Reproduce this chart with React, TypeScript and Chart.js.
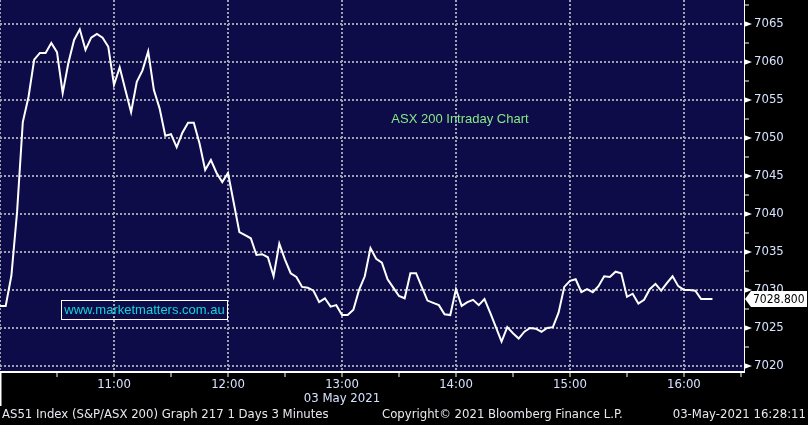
import React, { useEffect, useRef } from 'react';
import { Chart, registerables } from 'chart.js';

Chart.register(...registerables);

// ---- data ----
const STEP_MINUTES = 3; // 3-minute bars starting 10:00
const values = [
  7027.9, 7027.9, 7031.9, 7040.3, 7052.1, 7055.4, 7060.3, 7061.2, 7061.2, 7062.5,
  7061.3, 7055.9, 7059.9, 7062.9, 7064.3, 7061.6, 7063.2, 7063.7, 7063.2, 7062.0,
  7057.0, 7059.3, 7056.3, 7053.4, 7057.4, 7058.9, 7061.4, 7056.3, 7053.9, 7050.3,
  7050.5, 7048.8, 7050.7, 7052.0, 7052.0, 7049.3, 7045.8, 7047.1, 7045.4, 7044.2,
  7045.4, 7041.5, 7037.6, 7037.2, 7036.8, 7034.6, 7034.7, 7034.3, 7031.8, 7036.1,
  7034.0, 7032.2, 7031.7, 7030.4, 7030.3, 7029.9, 7028.4, 7028.9, 7027.8, 7028.0,
  7026.7, 7026.7, 7027.4, 7030.0, 7031.8, 7035.5, 7034.1, 7033.6, 7031.4, 7030.3,
  7029.2, 7028.9, 7032.2, 7032.2, 7030.4, 7028.6, 7028.3, 7028.0, 7026.8, 7026.7,
  7030.1, 7027.9, 7028.4, 7028.7, 7028.0, 7028.8, 7027.0, 7025.1, 7023.2, 7025.1,
  7024.3, 7023.6, 7024.5, 7025.0, 7024.9, 7024.5, 7025.0, 7025.1, 7027.0, 7030.4,
  7031.2, 7031.4, 7029.7, 7030.1, 7029.7, 7030.5, 7031.8, 7031.7, 7032.4, 7032.2,
  7029.1, 7029.5, 7028.2, 7028.7, 7030.1, 7030.8, 7029.9, 7030.9, 7031.8, 7030.5,
  7030.0, 7030.0, 7029.9, 7028.8, 7028.8, 7028.8,
];
const hourTickMinutes = [60, 120, 180, 240, 300, 360];
const hourLabels = ['11:00', '12:00', '13:00', '14:00', '15:00', '16:00'];
const dateLabel = '03 May 2021';
const dateLabelMinute = 180;
const footerLeft = 'AS51 Index (S&P/ASX 200) Graph 217 1 Days 3 Minutes';
const footerMid = 'Copyright\u00A9 2021 Bloomberg Finance L.P.';
const footerRight = '03-May-2021 16:28:11';
const chartTitle = 'ASX 200 Intraday Chart';
const watermark = 'www.marketmatters.com.au';
const lastValue = 7028.8;
const lastValueLabel = '7028.800';

const X_MIN = 0;
const X_MAX = 391.6;
const Y_MIN = 7019.2;
const Y_MAX = 7068.16;

const NAVY = '#0e0c48';
const GRID = '#a0a0ae';
const AXIS_TEXT = '#d6e2ff';
const COND = "'DejaVu Sans Condensed', 'DejaVu Sans', sans-serif";

const decorPlugin = {
  id: 'decor',
  beforeDraw(chart: any) {
    const { ctx, chartArea: a, width, height } = chart;
    ctx.save();
    ctx.fillStyle = '#000000';
    ctx.fillRect(0, 0, width, height);
    ctx.fillStyle = NAVY;
    ctx.fillRect(a.left, a.top, a.right - a.left, a.bottom - a.top);
    ctx.restore();
  },
  afterDraw(chart: any) {
    const { ctx, chartArea: a } = chart;
    const xs = chart.scales.x;
    const ys = chart.scales.y;
    ctx.save();
    // triangles on major y ticks
    ctx.fillStyle = '#ffffff';
    for (let v = 7020; v <= 7065; v += 5) {
      const y = ys.getPixelForValue(v);
      ctx.beginPath();
      ctx.moveTo(a.right, y - 3);
      ctx.lineTo(a.right + 8, y);
      ctx.lineTo(a.right, y + 3);
      ctx.closePath();
      ctx.fill();
    }
    // day separator line at left
    ctx.fillRect(a.left, a.bottom, 1.5, 34);

    // date label
    ctx.fillStyle = AXIS_TEXT;
    ctx.font = `13px ${COND}`;
    ctx.textAlign = 'center';
    ctx.textBaseline = 'middle';
    ctx.fillText(dateLabel, xs.getPixelForValue(dateLabelMinute), 399);

    // footer
    ctx.fillStyle = '#e8e8ee';
    ctx.textAlign = 'left';
    ctx.fillText(footerLeft, 2, 415);
    ctx.fillText(footerMid, 382, 415);
    ctx.textAlign = 'right';
    ctx.fillText(footerRight, 806, 415);

    // title
    ctx.font = "13px 'Liberation Sans', Arial, sans-serif";
    ctx.fillStyle = '#86e986';
    ctx.textAlign = 'center';
    ctx.fillText(chartTitle, 460, 119);

    // watermark box
    ctx.strokeStyle = '#ffffff';
    ctx.lineWidth = 1;
    ctx.strokeRect(61.5, 300.5, 166, 19);
    ctx.fillStyle = '#14d4dc';
    ctx.fillText(watermark, 144.5, 310.5);

    // last value box
    const yv = ys.getPixelForValue(lastValue);
    ctx.beginPath();
    ctx.moveTo(a.right + 1, yv);
    ctx.lineTo(a.right + 7, yv - 8);
    ctx.lineTo(807, yv - 8);
    ctx.lineTo(807, yv + 8);
    ctx.lineTo(a.right + 7, yv + 8);
    ctx.closePath();
    ctx.fillStyle = '#ffffff';
    ctx.fill();
    ctx.fillStyle = '#000000';
    ctx.font = `12px ${COND}`;
    ctx.textAlign = 'left';
    ctx.fillText(lastValueLabel, a.right + 9, yv + 0.5);
    ctx.restore();
  },
};

export default function App() {
  const ref = useRef<HTMLCanvasElement | null>(null);
  useEffect(() => {
    document.body.style.margin = '0';
    document.body.style.background = '#000';
    const canvas = ref.current;
    if (!canvas) return;
    const data = values.map((v, i) => ({ x: i * STEP_MINUTES, y: v }));
    const chart = new Chart(canvas, {
      type: 'line',
      data: {
        datasets: [
          {
            data,
            borderColor: '#ffffff',
            borderWidth: 2,
            pointRadius: 0,
            tension: 0,
            fill: false,
          },
        ],
      },
      options: {
        animation: false,
        responsive: false,
        maintainAspectRatio: false,
        layout: { padding: 0 },
        plugins: { legend: { display: false }, tooltip: { enabled: false }, title: { display: false } },
        scales: {
          x: {
            type: 'linear',
            min: X_MIN,
            max: X_MAX,
            afterFit(scale: any) {
              scale.height = 53;
              scale.paddingLeft = 0;
              scale.paddingRight = 0;
            },
            ticks: {
              stepSize: 30,
              includeBounds: false,
              autoSkip: false,
              maxRotation: 0,
              padding: 0,
              color: AXIS_TEXT,
              font: { family: COND, size: 13 },
              callback: (v: any) => {
                const idx = hourTickMinutes.indexOf(Number(v));
                return idx >= 0 ? hourLabels[idx] : '';
              },
            },
            grid: {
              color: (c: any) => (c.tick && c.tick.value % 60 === 0 ? GRID : 'rgba(0,0,0,0)'),
              lineWidth: 2,
              tickColor: '#ffffff',
              tickLength: 5,
              tickWidth: 1,
            },
            border: { display: true, color: '#ffffff', width: 2, dash: [2, 2] },
          },
          y: {
            type: 'linear',
            position: 'right',
            min: Y_MIN,
            max: Y_MAX,
            afterFit(scale: any) {
              scale.width = 64;
              scale.paddingTop = 0;
              scale.paddingBottom = 0;
            },
            ticks: {
              stepSize: 2.5,
              includeBounds: false,
              autoSkip: false,
              padding: 5,
              color: AXIS_TEXT,
              font: { family: COND, size: 13 },
              callback: (v: any) => (Number(v) % 5 === 0 ? String(v) : ''),
            },
            grid: {
              color: (c: any) => (c.tick && c.tick.value % 5 === 0 ? GRID : 'rgba(0,0,0,0)'),
              lineWidth: 2,
              tickColor: '#ffffff',
              tickLength: 5,
              tickWidth: 1,
            },
            border: { display: true, color: '#ffffff', width: 1, dash: [2, 2] },
          },
        },
      } as any,
      plugins: [decorPlugin],
    });
    return () => chart.destroy();
  }, []);
  return (
    <div style={{ width: 808, height: 425 }}>
      <canvas ref={ref} width={808} height={425} style={{ display: 'block' }} />
    </div>
  );
}
